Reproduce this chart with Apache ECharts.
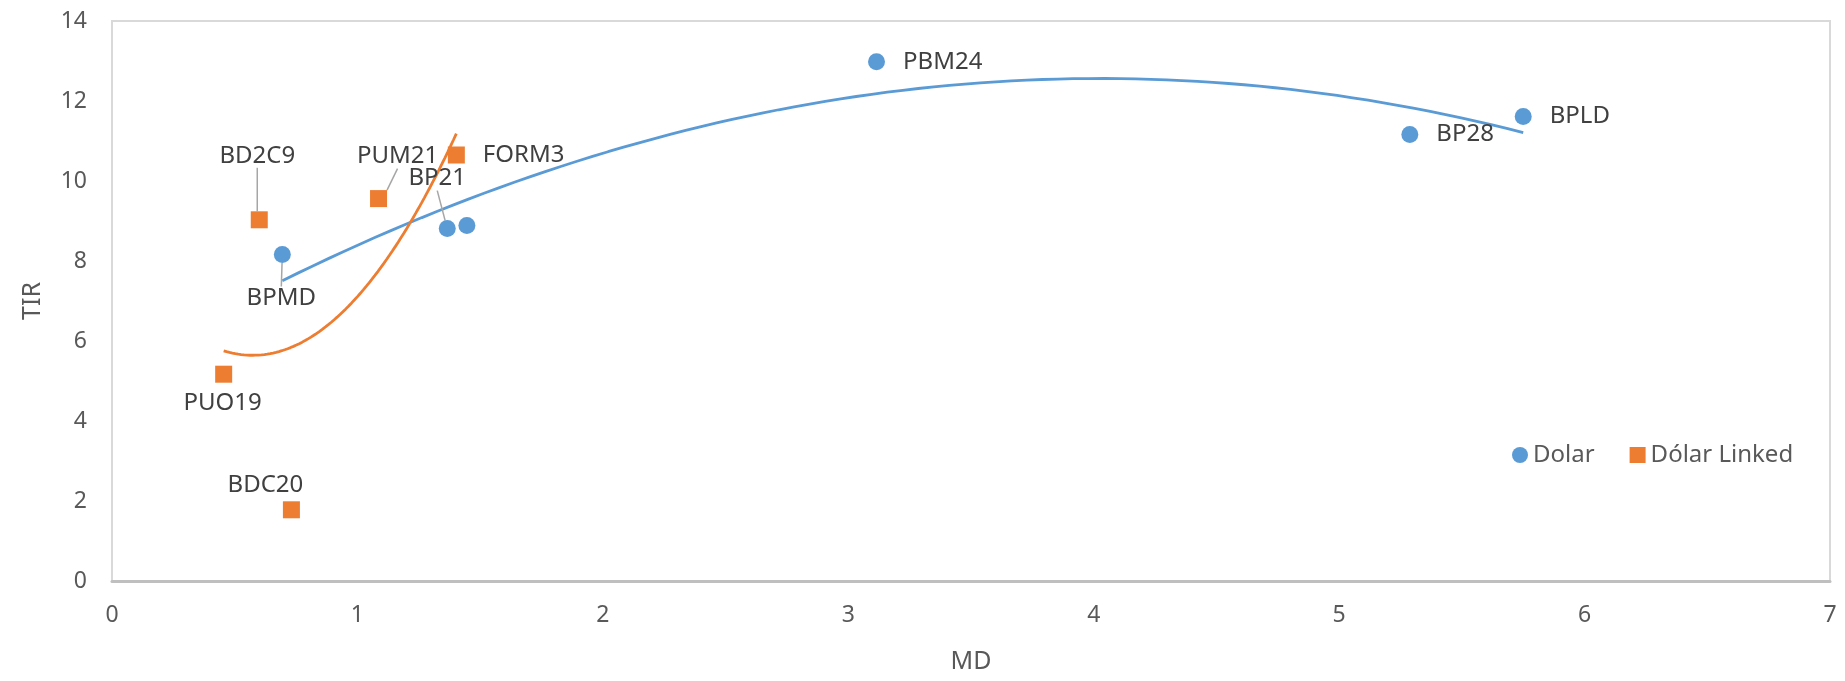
<!DOCTYPE html>
<html><head><meta charset="utf-8">
<script src="https://cdn.jsdelivr.net/npm/echarts@6/dist/echarts.min.js"></script>
<style>html,body{margin:0;padding:0;background:#fff}#c{width:1845px;height:681px}</style>
</head><body><div id="c"></div>
<script>
// ---- data ----
const dolarNames = ['BPMD', 'BP21', '', 'PBM24', 'BP28', 'BPLD'];
const dolarMD    = [0.694, 1.366, 1.446, 3.115, 5.288, 5.750];
const dolarTIR   = [8.16, 8.81, 8.89, 12.98, 11.16, 11.61];
const linkedNames = ['PUO19', 'BD2C9', 'BDC20', 'PUM21', 'FORM3'];
const linkedMD    = [0.455, 0.600, 0.731, 1.086, 1.403];
const linkedTIR   = [5.17, 9.03, 1.78, 9.56, 10.65];
const xTicks = [0, 1, 2, 3, 4, 5, 6, 7];
const yTicks = [0, 2, 4, 6, 8, 10, 12, 14];
const seriesNames = ['Dolar', 'Dólar Linked'];

// ---- label styling (layout only) ----
const labelStyle = {
  'PBM24': { position: 'right', distance: 18 },
  'BPLD':  { position: 'right', distance: 18 },
  'BP28':  { position: 'right', distance: 18 },
  'FORM3': { position: 'right', distance: 18 },
  'PUO19': { position: 'inside', shift: [-1, 29] },
  'BDC20': { position: 'inside', shift: [-26, -25] },
  'BD2C9': { position: 'inside', shift: [-2, -64], line: true },
  'PUM21': { position: 'inside', shift: [19, -42], line: true },
  'BP21':  { position: 'inside', shift: [-10, -50], line: true },
  'BPMD':  { position: 'inside', shift: [-1, 44], line: true }
};

// quadratic least-squares trendline (like Excel polynomial order 2)
function polyFit2(xs, ys) {
  let s = [0, 0, 0, 0, 0], t = [0, 0, 0];
  for (let i = 0; i < xs.length; i++) {
    let p = 1;
    for (let k = 0; k < 5; k++) { s[k] += p; if (k < 3) t[k] += p * ys[i]; p *= xs[i]; }
  }
  const A = [[s[0], s[1], s[2], t[0]], [s[1], s[2], s[3], t[1]], [s[2], s[3], s[4], t[2]]];
  for (let i = 0; i < 3; i++) {
    for (let j = i + 1; j < 3; j++) {
      const f = A[j][i] / A[i][i];
      for (let k = i; k < 4; k++) A[j][k] -= f * A[i][k];
    }
  }
  const c = [0, 0, 0];
  for (let i = 2; i >= 0; i--) {
    let v = A[i][3];
    for (let k = i + 1; k < 3; k++) v -= A[i][k] * c[k];
    c[i] = v / A[i][i];
  }
  return c;
}
function trend(xs, ys) {
  const c = polyFit2(xs, ys);
  const lo = Math.min(...xs), hi = Math.max(...xs);
  const pts = [];
  const n = 80;
  for (let i = 0; i <= n; i++) {
    const x = lo + (hi - lo) * i / n;
    pts.push([x, c[0] + c[1] * x + c[2] * x * x]);
  }
  return pts;
}

function buildPoints(names, xs, ys) {
  return xs.map((x, i) => {
    const nm = names[i];
    const st = labelStyle[nm];
    const item = { name: nm, value: [x, ys[i]] };
    if (!st) { item.label = { show: false }; return item; }
    item.label = { show: true, position: st.position };
    if (st.distance != null) item.label.distance = st.distance;
    if (st.line) item.labelLine = { show: true, lineStyle: { color: '#a6a6a6', width: 1.5 } };
    return item;
  });
}
function layoutFor(names) {
  return function (params) {
    const st = labelStyle[names[params.dataIndex]];
    if (st && st.shift) return { dx: st.shift[0], dy: st.shift[1] };
    return {};
  };
}

const BLUE = '#5b9bd5', ORANGE = '#ed7d31';
const FONT = '"Noto Sans", "Open Sans", sans-serif';

const chart = echarts.init(document.getElementById('c'), null, { renderer: 'canvas' });
chart.setOption({
  animation: false,
  backgroundColor: '#fff',
  textStyle: { fontFamily: FONT },
  grid: {
    left: 112, right: 15, top: 21, bottom: 100,
    show: true, borderColor: '#d9d9d9', borderWidth: 2, backgroundColor: 'transparent'
  },
  legend: {
    data: [
      { name: seriesNames[0], icon: 'circle' },
      { name: seriesNames[1], icon: 'rect' }
    ],
    left: 1507, top: 438, itemWidth: 16, itemHeight: 16, itemGap: 35,
    textStyle: { fontSize: 24, color: '#595959', fontFamily: FONT }
  },
  xAxis: {
    type: 'value', min: xTicks[0], max: xTicks[xTicks.length - 1], interval: 1,
    name: 'MD', nameLocation: 'middle', nameGap: 68,
    nameTextStyle: { fontSize: 25, color: '#595959', fontFamily: FONT },
    axisLine: { show: true, lineStyle: { color: '#bfbfbf', width: 3 } },
    axisTick: { show: false },
    splitLine: { show: false },
    axisLabel: { fontSize: 23, color: '#595959', margin: 23, fontFamily: FONT }
  },
  yAxis: {
    type: 'value', min: yTicks[0], max: yTicks[yTicks.length - 1], interval: 2,
    name: 'TIR', nameLocation: 'middle', nameGap: 67,
    nameTextStyle: { fontSize: 25, color: '#595959', fontFamily: FONT },
    axisLine: { show: false },
    axisTick: { show: false },
    splitLine: { show: false },
    axisLabel: { fontSize: 23, color: '#595959', margin: 25, fontFamily: FONT }
  },
  series: [
    {
      name: seriesNames[0] + ' trend', type: 'line', data: trend(dolarMD, dolarTIR),
      showSymbol: false, symbol: 'none', smooth: false, silent: true,
      lineStyle: { color: BLUE, width: 2.8 }, z: 1
    },
    {
      name: seriesNames[1] + ' trend', type: 'line', data: trend(linkedMD, linkedTIR),
      showSymbol: false, symbol: 'none', smooth: false, silent: true,
      lineStyle: { color: ORANGE, width: 2.8 }, z: 1
    },
    {
      name: seriesNames[0], type: 'scatter', symbol: 'circle', symbolSize: 17,
      itemStyle: { color: BLUE, opacity: 1 },
      data: buildPoints(dolarNames, dolarMD, dolarTIR),
      label: { formatter: '{b}', fontSize: 24, color: '#404040', fontFamily: FONT },
      labelLayout: layoutFor(dolarNames),
      z: 3
    },
    {
      name: seriesNames[1], type: 'scatter', symbol: 'rect', symbolSize: 17,
      itemStyle: { color: ORANGE, opacity: 1 },
      data: buildPoints(linkedNames, linkedMD, linkedTIR),
      label: { formatter: '{b}', fontSize: 24, color: '#404040', fontFamily: FONT },
      labelLayout: layoutFor(linkedNames),
      z: 3
    }
  ]
});
</script>
</body></html>
